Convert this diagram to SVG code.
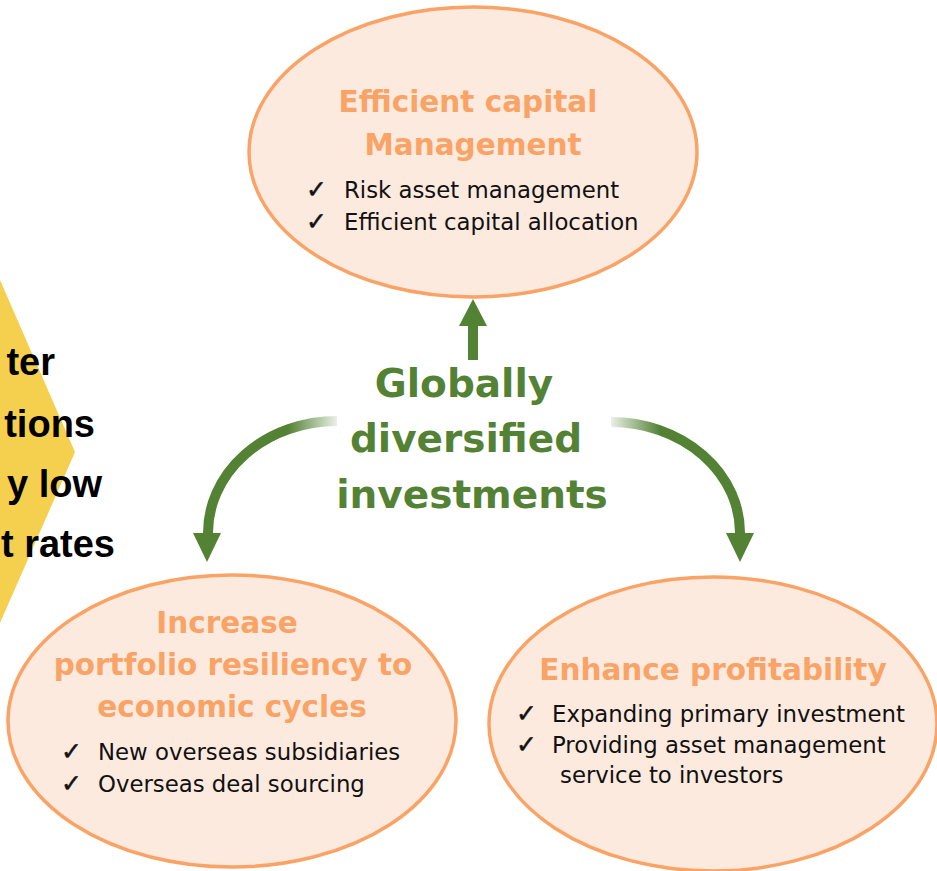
<svg xmlns="http://www.w3.org/2000/svg" width="937" height="871" viewBox="0 0 937 871">
<style>
.ell{fill:#FDEADF;stroke:#F9A366;stroke-width:3.5}
.title{font-family:"DejaVu Sans",Verdana,sans-serif;font-weight:bold;font-size:29.5px;fill:#F9A366;text-anchor:middle}
.body{font-family:"DejaVu Sans",Verdana,sans-serif;font-size:22.8px;fill:#111}
.chk{font-family:"DejaVu Sans",sans-serif;font-size:25px;fill:#111;stroke:#111;stroke-width:0.5}
.green{font-family:"DejaVu Sans",Verdana,sans-serif;font-weight:bold;font-size:39px;fill:#548235;text-anchor:middle}
.left{font-family:"Liberation Sans",Arial,sans-serif;font-weight:bold;font-size:38px;fill:#000;text-anchor:end}
.arrow{fill:none;stroke-width:10}
.head{fill:#548235}
</style>
<defs>
<linearGradient id="gl" gradientUnits="userSpaceOnUse" x1="337" y1="0" x2="288" y2="0">
<stop offset="0" stop-color="#548235" stop-opacity="0.12"/>
<stop offset="1" stop-color="#548235" stop-opacity="1"/>
</linearGradient>
<linearGradient id="gr" gradientUnits="userSpaceOnUse" x1="611" y1="0" x2="660" y2="0">
<stop offset="0" stop-color="#548235" stop-opacity="0.12"/>
<stop offset="1" stop-color="#548235" stop-opacity="1"/>
</linearGradient>
</defs>

<g id="left-banner">
<polygon points="0,280 75,452 0,623" fill="#F5D04F"/>
<text class="left" x="55" y="375">ter</text>
<text class="left" x="95" y="437">tions</text>
<text class="left" x="102" y="497">y low</text>
<text class="left" x="115" y="557">t rates</text>
</g>

<g id="node-top">
<ellipse class="ell" cx="473" cy="152" rx="224" ry="145"/>
<text class="title" x="468" y="112">Efficient capital</text>
<text class="title" x="473" y="155">Management</text>
<text class="chk" x="306" y="198">✓</text>
<text class="body" x="344" y="198">Risk asset management</text>
<text class="chk" x="306" y="230">✓</text>
<text class="body" x="344" y="230">Efficient capital allocation</text>
</g>

<g id="node-left">
<ellipse class="ell" cx="232" cy="721" rx="224" ry="146"/>
<text class="title" x="227" y="633">Increase</text>
<text class="title" x="233" y="675">portfolio resiliency to</text>
<text class="title" x="232" y="717">economic cycles</text>
<text class="chk" x="61" y="760">✓</text>
<text class="body" x="98" y="760">New overseas subsidiaries</text>
<text class="chk" x="61" y="792">✓</text>
<text class="body" x="98" y="792">Overseas deal sourcing</text>
</g>

<g id="node-right">
<ellipse class="ell" cx="713" cy="724" rx="224" ry="147"/>
<text class="title" x="713" y="680">Enhance profitability</text>
<text class="chk" x="516" y="722">✓</text>
<text class="body" x="552" y="722">Expanding primary investment</text>
<text class="chk" x="516" y="753">✓</text>
<text class="body" x="552" y="753">Providing asset management</text>
<text class="body" x="560" y="783">service to investors</text>
</g>

<g id="center">
<text class="green" x="464" y="397">Globally</text>
<text class="green" x="466" y="452">diversified</text>
<text class="green" x="472" y="508">investments</text>
</g>

<g id="connectors">
<rect x="468" y="323" width="10" height="37" fill="#548235"/>
<polygon class="head" points="473,299 487,326 459,326"/>
<path class="arrow" stroke="url(#gl)" d="M 337 421 A 129 112 0 0 0 208 535"/>
<polygon class="head" points="193,533 221,533 207,562"/>
<path class="arrow" stroke="url(#gr)" d="M 611 422 A 129 111 0 0 1 740 535"/>
<polygon class="head" points="726,533 754,533 740,562"/>
</g>
</svg>
